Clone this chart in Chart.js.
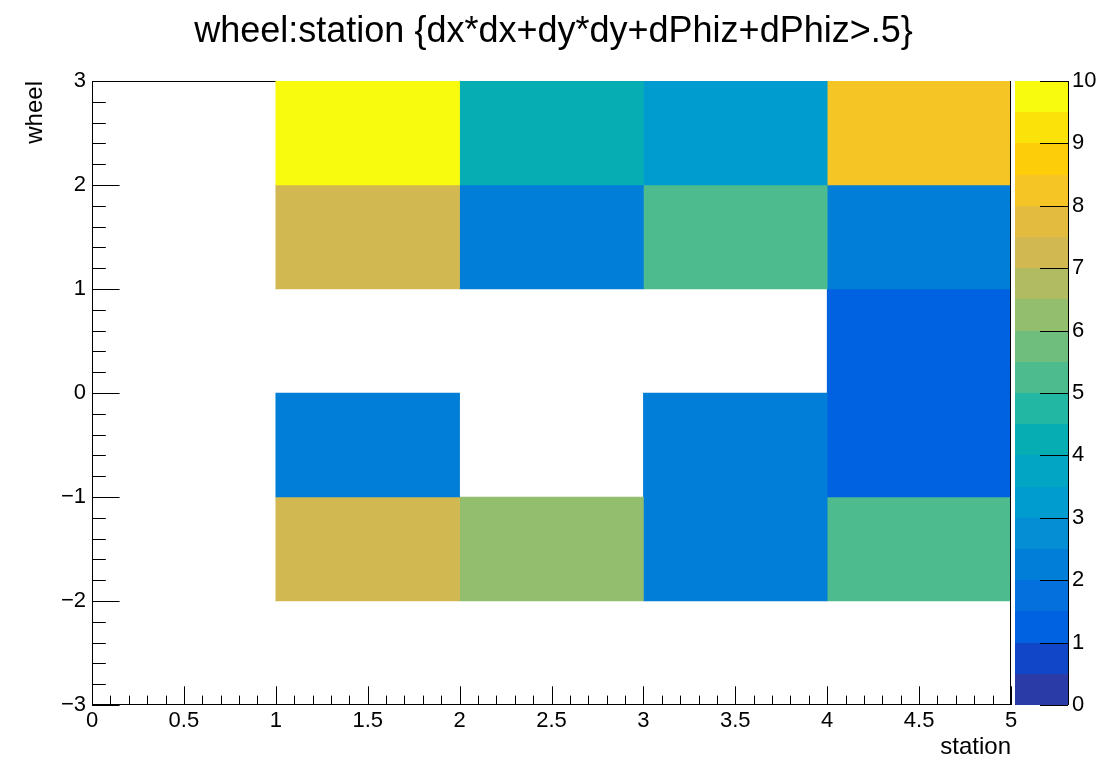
<!DOCTYPE html>
<html>
<head>
<meta charset="utf-8">
<title>wheel:station</title>
<script src="https://cdn.jsdelivr.net/npm/chart.js@4.4.1/dist/chart.umd.min.js"></script>
<style>
  html, body { margin: 0; padding: 0; background: #fff; }
</style>
</head>
<body>
<canvas id="histo" width="1107" height="763"></canvas>
<script>
// bin edges of the 2D histogram
const stationEdges = [0, 1, 2, 3, 4, 5];
const wheelEdges = [-3, -2, -1, 0, 1, 2, 3];

// entries per bin, one row per wheel bin, columns are station bins 0-1 ... 4-5
const wheelM3 = [0, 0, 0, 0, 0];
const wheelM2 = [0, 7, 6, 2, 5];
const wheelM1 = [0, 2, 0, 2, 1];
const wheel0  = [0, 0, 0, 0, 1];
const wheel1  = [0, 7, 2, 5, 2];
const wheel2  = [0, 10, 4, 3, 8];
const rows = [wheelM3, wheelM2, wheelM1, wheel0, wheel1, wheel2];

// axis tick labels
const xTicks = [0, 0.5, 1, 1.5, 2, 2.5, 3, 3.5, 4, 4.5, 5];
const yTicks = [-3, -2, -1, 0, 1, 2, 3];
const zTicks = [0, 1, 2, 3, 4, 5, 6, 7, 8, 9, 10];
const zMin = 0, zMax = 10;

// 20 contour colours (bird palette)
const palette = [
  '#2a3aa6', '#1146c8', '#0062e0', '#0470dd', '#007ed8',
  '#058ed4', '#009ccf', '#02a6c4', '#06aeb3', '#22b7a2',
  '#4ebb8e', '#70be7d', '#93be6d', '#b1bb62', '#d1b851',
  '#e3bb3f', '#f5c425', '#fdcd0a', '#fbe30a', '#f9fb0e'
];

const FONT = '"Liberation Sans", Arial, Helvetica, sans-serif';

function colorFor(v) {
  const n = palette.length;
  let k = Math.floor((v - zMin) / (zMax - zMin) * n);
  if (k > n - 1) k = n - 1;
  if (k < 0) k = 0;
  return palette[k];
}

function fmt(v) {
  return String(v).replace('-', '\u2212');
}

// one floating-bar dataset per station bin, bars span the wheel bin
const datasets = stationEdges.slice(0, -1).map((s0, j) => ({
  label: 'station ' + s0,
  xAxisID: 'x',
  yAxisID: 'y',
  grouped: false,
  categoryPercentage: 1,
  barPercentage: 1,
  borderWidth: 0,
  backgroundColor: c => (c.raw ? colorFor(c.raw.v) : palette[0]),
  data: rows.map((row, i) => ({
    x: [s0, stationEdges[j + 1]],
    y: (wheelEdges[i] + wheelEdges[i + 1]) / 2,
    v: row[j]
  })).filter(d => d.v > 0)
}));

// frame, inward ticks and the colour palette
const rootAxes = {
  id: 'rootAxes',
  beforeDatasetsDraw(chart) {
    const {ctx, chartArea: a} = chart;
    ctx.save();
    ctx.strokeStyle = '#000';
    ctx.lineWidth = 1;
    ctx.strokeRect(a.left + 0.5, a.top + 0.5, a.right - a.left - 1, a.bottom - a.top - 1);
    ctx.restore();
  },
  afterDatasetsDraw(chart) {
    const {ctx, chartArea: a, scales} = chart;
    const {x, y, z} = scales;
    ctx.save();
    ctx.strokeStyle = '#000';
    ctx.lineWidth = 1;
    ctx.beginPath();
    ctx.moveTo(a.left + 0.5, a.top);
    ctx.lineTo(a.left + 0.5, a.bottom);
    ctx.moveTo(a.left, a.bottom - 0.5);
    ctx.lineTo(a.right, a.bottom - 0.5);
    ctx.moveTo(a.right - 0.5, a.top);
    ctx.lineTo(a.right - 0.5, a.bottom);

    // x: labelled every 0.5, small ticks every 0.1
    for (let i = 0; i <= 50; i++) {
      const px = Math.round(x.getPixelForValue(i / 10)) + 0.5;
      const len = i % 5 === 0 ? 18.7 : 9.4;
      ctx.moveTo(px, a.bottom);
      ctx.lineTo(px, a.bottom - len);
    }
    // y: labelled every 1, small ticks every 0.2
    for (let i = 0; i <= 30; i++) {
      const py = Math.round(y.getPixelForValue(-3 + i / 5)) + 0.5;
      const len = i % 5 === 0 ? 27.6 : 13.8;
      ctx.moveTo(a.left, py);
      ctx.lineTo(a.left + len, py);
    }
    ctx.stroke();

    // palette boxes
    const p0 = a.right + 4, p1 = a.right + 57;
    const step = (zMax - zMin) / palette.length;
    palette.forEach((col, i) => {
      const yLo = z.getPixelForValue(zMin + i * step);
      const yHi = z.getPixelForValue(zMin + (i + 1) * step);
      ctx.fillStyle = col;
      ctx.fillRect(p0, Math.round(yHi), p1 - p0, Math.round(yLo) - Math.round(yHi));
    });
    ctx.beginPath();
    ctx.moveTo(p1 + 0.5, z.top);
    ctx.lineTo(p1 + 0.5, z.bottom);
    zTicks.forEach(v => {
      const py = Math.round(z.getPixelForValue(v)) + 0.5;
      ctx.moveTo(p1, py);
      ctx.lineTo(p1 - 28, py);
    });
    ctx.stroke();
    ctx.restore();
  }
};

const tickFont = {family: FONT, size: 22};
const titleFont = {family: FONT, size: 24};
const noGrid = {display: false, drawTicks: false, offset: false};

new Chart(document.getElementById('histo'), {
  type: 'bar',
  data: {datasets: datasets},
  plugins: [rootAxes],
  options: {
    indexAxis: 'y',
    responsive: false,
    animation: false,
    layout: {padding: 0},
    plugins: {
      legend: {display: false},
      tooltip: {enabled: false},
      title: {
        display: true,
        text: 'wheel:station {dx*dx+dy*dy+dPhiz+dPhiz>.5}',
        color: '#000',
        font: {family: FONT, size: 36, weight: 'normal', lineHeight: 1.25},
        padding: {top: 10, bottom: 26}
      }
    },
    scales: {
      x: {
        type: 'linear',
        position: 'bottom',
        min: 0,
        max: 5,
        offset: false,
        grid: noGrid,
        border: {display: false},
        afterBuildTicks: s => { s.ticks = xTicks.map(v => ({value: v})); },
        afterFit: s => { s.height = 58; s.paddingLeft = 0; s.paddingRight = 0; },
        ticks: {
          color: '#000', font: tickFont, padding: 3,
          autoSkip: false, maxRotation: 0, callback: v => fmt(v)
        },
        title: {
          display: true, text: 'station', align: 'end', color: '#000',
          font: titleFont, padding: {top: 0, bottom: 1}
        }
      },
      y: {
        type: 'linear',
        position: 'left',
        min: -3,
        max: 3,
        offset: false,
        grid: noGrid,
        border: {display: false},
        afterBuildTicks: s => { s.ticks = yTicks.map(v => ({value: v})); },
        afterFit: s => { s.width = 92; s.paddingTop = 0; s.paddingBottom = 0; },
        ticks: {
          color: '#000', font: tickFont, padding: 6,
          autoSkip: false, callback: v => fmt(v)
        },
        title: {
          display: true, text: 'wheel', align: 'end', color: '#000',
          font: titleFont, padding: {top: 21, bottom: 0}
        }
      },
      z: {
        type: 'linear',
        position: 'right',
        min: zMin,
        max: zMax,
        offset: false,
        grid: noGrid,
        border: {display: false},
        afterBuildTicks: s => { s.ticks = zTicks.map(v => ({value: v})); },
        afterFit: s => { s.width = 96; s.paddingTop = 0; s.paddingBottom = 0; },
        ticks: {
          color: '#000', font: tickFont, padding: 61,
          autoSkip: false, callback: v => fmt(v)
        }
      }
    }
  }
});
</script>
</body>
</html>
